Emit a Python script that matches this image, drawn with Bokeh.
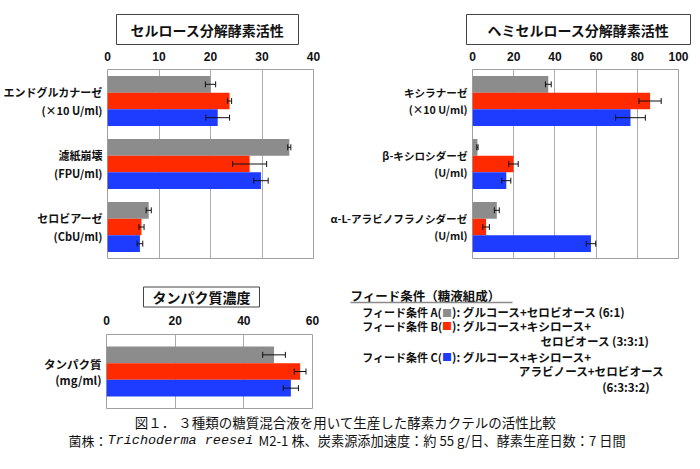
import math
from bokeh.plotting import figure
from bokeh.models import ColumnDataSource, Range1d, Title, Label, Arrow
from bokeh.transform import dodge
from bokeh.layouts import column, row
from bokeh.embed import file_html
from bokeh.resources import INLINE

# ---------------- data ----------------
series_names = ["フィード条件 A", "フィード条件 B", "フィード条件 C"]
series_colors = ["#8c8c8c", "#ff2a00", "#1e3cff"]

cell_keys = ["エンドグルカナーゼ", "濾紙崩壊", "セロビアーゼ"]
cell_units = ["(×10 U/ml)", "(FPU/ml)", "(CbU/ml)"]
cell_ticks = [0, 10, 20, 30, 40]
cell_A = [20.0, 35.3, 8.0]
cell_A_err = [1.0, 0.3, 0.5]
cell_B = [23.7, 27.6, 6.6]
cell_B_err = [0.4, 3.3, 0.5]
cell_C = [21.4, 29.8, 6.3]
cell_C_err = [2.3, 1.4, 0.55]

hemi_keys = ["キシラナーゼ", "β-キシロシダーゼ", "α-L-アラビノフラノシダーゼ"]
hemi_units = ["(×10 U/ml)", "(U/ml)", "(U/ml)"]
hemi_ticks = [0, 20, 40, 60, 80, 100]
hemi_A = [36.8, 2.4, 11.8]
hemi_A_err = [1.4, 0.3, 1.2]
hemi_B = [86.2, 19.9, 6.6]
hemi_B_err = [5.4, 2.3, 1.6]
hemi_C = [76.7, 16.4, 57.5]
hemi_C_err = [7.2, 2.2, 2.3]

prot_keys = ["タンパク質"]
prot_units = ["(mg/ml)"]
prot_ticks = [0, 20, 40, 60]
prot_A = [48.8]
prot_A_err = [3.3]
prot_B = [56.4]
prot_B_err = [1.7]
prot_C = [53.7]
prot_C_err = [2.2]

JP = "Noto Sans CJK JP"


def make_panel(title_text, keys, units, label_size, line_h, ticks, xmax, vals, errs,
               bar_h, fh, bl, br, bt, bb, pad, title_offset, title_standoff,
               tick_standoff):
    n = len(keys)
    centers = [n - i - 0.5 for i in range(n)]  # category slots, top to bottom
    p = figure(y_range=Range1d(0, n), x_range=Range1d(0, xmax),
               frame_width=206, frame_height=fh,
               min_border_left=bl, min_border_right=br,
               min_border_top=bt, min_border_bottom=bb,
               x_axis_location="above", output_backend="svg",
               toolbar_location=None, border_fill_color="white",
               background_fill_color="white")
    p.title = Title(text=title_text, align="left", offset=title_offset,
                    text_font=JP, text_font_size="14px", text_font_style="bold",
                    text_color="#111111", border_line_color="#444444",
                    border_line_width=1, background_fill_color="white",
                    padding=pad, standoff=title_standoff)
    offsets = [bar_h, 0, -bar_h]
    for v, e, color, off in zip(vals, errs, series_colors, offsets):
        src = ColumnDataSource(dict(yc=centers, v=v,
                                    lo=[a - b for a, b in zip(v, e)],
                                    hi=[a + b for a, b in zip(v, e)]))
        yy = dodge("yc", off)
        p.hbar(y=yy, left=0, right="v", height=bar_h, fill_color=color,
               line_color=None, source=src)
        p.segment(x0="lo", x1="hi", y0=yy, y1=yy, line_color="#111111",
                  line_width=1, source=src)
        for fld in ("lo", "hi"):
            p.scatter(x=fld, y=yy, marker="dash", angle=math.pi / 2, size=6,
                      line_color="#111111", line_width=1, source=src)
    p.xaxis.ticker = ticks
    p.xaxis.major_tick_line_color = None
    p.xaxis.minor_tick_line_color = None
    p.xaxis.major_tick_out = 0
    p.xaxis.major_tick_in = 0
    p.xaxis.minor_tick_out = 0
    p.xaxis.axis_line_color = None
    p.xaxis.major_label_text_font = "Liberation Sans"
    p.xaxis.major_label_text_font_size = "12px"
    p.xaxis.major_label_text_font_style = "bold"
    p.xaxis.major_label_text_color = "#111111"
    p.xaxis.major_label_standoff = tick_standoff

    p.yaxis.ticker = centers
    p.yaxis.major_label_overrides = {c: k + "\n" + u for c, k, u in zip(centers, keys, units)}
    p.yaxis.major_tick_line_color = None
    p.yaxis.minor_tick_line_color = None
    p.yaxis.major_tick_out = 0
    p.yaxis.major_tick_in = 0
    p.yaxis.minor_tick_out = 0
    p.yaxis.axis_line_color = None
    p.yaxis.major_label_text_font = JP
    p.yaxis.major_label_text_font_size = label_size
    p.yaxis.major_label_text_font_style = "bold"
    p.yaxis.major_label_text_color = "#111111"
    p.yaxis.major_label_text_line_height = line_h
    p.yaxis.major_label_standoff = 5

    p.ygrid.grid_line_color = None
    p.xgrid.ticker = ticks
    p.xgrid.grid_line_color = "#ababab"
    p.xgrid.grid_line_width = 1
    p.outline_line_color = "#a0a0a0"
    p.outline_line_width = 1
    return p


pad1 = dict(left=14, right=14, top=5, bottom=5)
pad2 = dict(left=21, right=21, top=5, bottom=5)
pad3 = dict(left=9, right=9, top=0, bottom=0)

f1 = make_panel("セルロース分解酵素活性", cell_keys, cell_units, "11px", 1.09,
                cell_ticks, 40, [cell_A, cell_B, cell_C],
                [cell_A_err, cell_B_err, cell_C_err],
                0.265, 189, 106, 14, 69, 20, pad1, 9, 8, 9)
f2 = make_panel("ヘミセルロース分解酵素活性", hemi_keys, hemi_units, "10.6px", 1.13,
                hemi_ticks, 100, [hemi_A, hemi_B, hemi_C],
                [hemi_A_err, hemi_B_err, hemi_C_err],
                0.265, 189, 142, 26, 69, 20, pad2, -6, 8, 9)
f3 = make_panel("タンパク質濃度", prot_keys, prot_units, "11.5px", 1.0,
                prot_ticks, 60, [prot_A, prot_B, prot_C],
                [prot_A_err, prot_B_err, prot_C_err],
                0.225, 74, 106, 14, 56, 4, pad3, 37, 11, 10)

# ---------------- legend block ----------------
f4 = figure(x_range=Range1d(326, 700), y_range=Range1d(412, 278),
            width=374, height=134, min_border=0,
            x_axis_location=None, y_axis_location=None,
            outline_line_color=None, toolbar_location=None, output_backend="svg")
f4.grid.visible = False

leg_font = "11px"


def txt(p, x, y, t, size=leg_font, style="normal", align="left", font=JP, color="#111111"):
    p.add_layout(Label(x=x, y=y, text=t, text_font=font, text_font_size=size,
                       text_font_style=style, text_align=align,
                       text_baseline="middle", text_color=color))


txt(f4, 350, 295, "フィード条件（糖液組成）", size="12.5px", style="bold")
f4.add_layout(Arrow(x_start=350, y_start=302, x_end=512, y_end=302, start=None, end=None,
                    line_color="#8a8a8a", line_width=1.5))

legend_rows_y = [311.7, 325, 356]
legend_letters = ["A", "B", "C"]
legend_texts = ["): グルコース+セロビオース (6:1)",
                "): グルコース+キシロース+",
                "): グルコース+キシロース+"]
for yv, letter, rest, col in zip(legend_rows_y, legend_letters, legend_texts, series_colors):
    txt(f4, 361.7, yv, "フィード条件 " + letter + "(", style="bold")
    txt(f4, 446.5, yv, "■", size="10px", align="center", color=col)
    txt(f4, 451.5, yv, rest, size="11.6px", style="bold")
txt(f4, 540, 340, "セロビオース (3:3:1)", size="11.6px", style="bold")
txt(f4, 518.3, 370, "アラビノース+セロビオース", size="11.6px", style="bold")
txt(f4, 601.7, 386.7, "(6:3:3:2)", size="11.6px", style="bold")

# ---------------- caption ----------------
f5 = figure(x_range=Range1d(0, 700), y_range=Range1d(469, 412), width=700,
            height=57, min_border=0, x_axis_location=None, y_axis_location=None,
            outline_line_color=None, toolbar_location=None, output_backend="svg")
f5.grid.visible = False
txt(f5, 345, 421, "図１． ３種類の糖質混合液を用いて生産した酵素カクテルの活性比較",
    size="13.5px", align="center")
txt(f5, 107, 440, "菌株：", size="13px", align="right")
f5.add_layout(Label(x=107, y=440, text="Trichoderma reesei", text_font="Liberation Mono",
                    text_font_size="13.5px", text_font_style="italic",
                    text_baseline="middle", text_color="#111111"))
txt(f5, 258, 440, "M2-1 株、炭素源添加速度：約 55 g/日、酵素生産日数：7 日間", size="13.2px")

layout = column(row(f1, f2), row(f3, column(f4)), f5)
open("out.html", "w").write(file_html(layout, INLINE))
